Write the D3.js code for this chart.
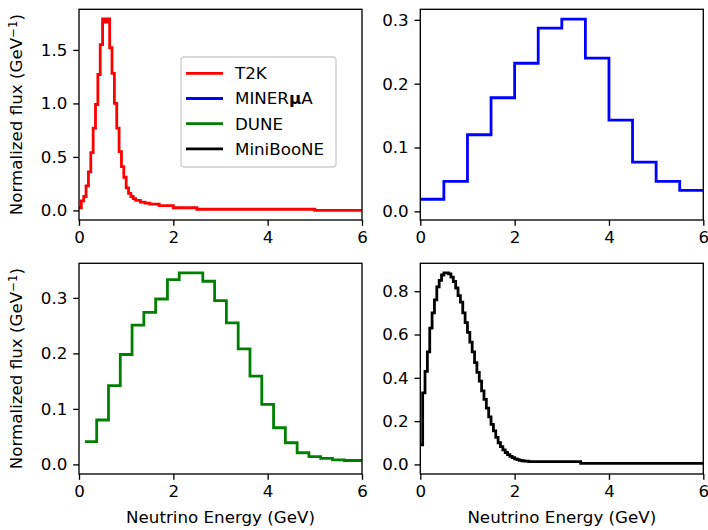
<!DOCTYPE html>
<html>
<head>
<meta charset="utf-8">
<script src="https://cdn.jsdelivr.net/npm/d3@7"></script>
<style>
body { margin: 0; background: #fff; }
text { font-family: "DejaVu Sans", sans-serif; fill: #000; }
</style>
</head>
<body>
<div class="graphic"></div>
<script>
// bin edges (GeV) and flux value per bin
var t2kEdges = [0, 0.05, 0.1, 0.15, 0.2, 0.25, 0.3, 0.35, 0.4, 0.45, 0.5, 0.55, 0.6, 0.65, 0.7, 0.75, 0.8, 0.85, 0.9, 0.95,
    1.0, 1.05, 1.1, 1.15, 1.2, 1.3, 1.4, 1.5, 1.7, 2.0, 2.5, 5.0, 7.0]
var t2kFlux = [0.025, 0.09, 0.13, 0.23, 0.36, 0.54, 0.77, 0.99, 1.27, 1.55, 1.79, 1.76, 1.79, 1.52, 1.28, 1.0, 0.77, 0.55, 0.41, 0.31,
    0.21, 0.16, 0.13, 0.11, 0.093, 0.078, 0.068, 0.058, 0.045, 0.025, 0.011, 0.001]

var minervaEdges = [0, 0.5, 1.0, 1.5, 2.0, 2.5, 3.0, 3.5, 4.0, 4.5, 5.0, 5.5, 6.0]
var minervaFlux = [0.019, 0.047, 0.120, 0.178, 0.232, 0.287, 0.301, 0.240, 0.143, 0.077, 0.047, 0.033]

var duneEdges = [0.125, 0.375, 0.625, 0.875, 1.125, 1.375, 1.625, 1.875, 2.125, 2.375, 2.625, 2.875, 3.125, 3.375,
    3.625, 3.875, 4.125, 4.375, 4.625, 4.875, 5.125, 5.375, 5.625, 5.875, 6.125]
var duneFlux = [0.041, 0.080, 0.142, 0.198, 0.251, 0.274, 0.298, 0.333, 0.345, 0.345, 0.330, 0.295, 0.255, 0.208,
    0.159, 0.108, 0.066, 0.039, 0.021, 0.014, 0.011, 0.008, 0.007, 0.007]

var booneEdges = [0, 0.05, 0.1, 0.15, 0.2, 0.25, 0.3, 0.35, 0.4, 0.45, 0.5, 0.55, 0.6, 0.65, 0.7, 0.75, 0.8, 0.85, 0.9, 0.95,
    1.0, 1.05, 1.1, 1.15, 1.2, 1.25, 1.3, 1.35, 1.4, 1.45, 1.5, 1.55, 1.6, 1.65, 1.7, 1.75, 1.8, 1.85, 1.9, 1.95,
    2.0, 2.05, 2.1, 2.15, 2.2, 2.3, 3.4, 8.0]
var booneFlux = [0.09, 0.33, 0.43, 0.52, 0.63, 0.70, 0.76, 0.82, 0.85, 0.875, 0.885, 0.885, 0.88, 0.865, 0.845, 0.815, 0.78, 0.75, 0.70, 0.655,
    0.61, 0.565, 0.52, 0.47, 0.425, 0.385, 0.34, 0.30, 0.26, 0.22, 0.185, 0.155, 0.125, 0.10, 0.082, 0.067, 0.055, 0.045, 0.037, 0.031,
    0.026, 0.022, 0.019, 0.017, 0.015, 0.013, 0.005]

var names = ['T2K', 'MINERμA', 'DUNE', 'MiniBooNE']
var colors = ['#ff0000', '#0000ff', '#008000', '#000000']
var xTicks = [0, 2, 4, 6]
var yTicks = [
    [0, 0.5, 1.0, 1.5],
    [0, 0.1, 0.2, 0.3],
    [0, 0.1, 0.2, 0.3],
    [0, 0.2, 0.4, 0.6, 0.8]
]
var yLimits = [[-0.0895, 1.8795], [-0.0135, 0.3165], [-0.0173, 0.3623], [-0.0443, 0.929]]

var width = 708
var height = 530
var fontSize = 16.7
var panelW = 283
var panelH = 210.7
var panelX = [79, 420.3]
var panelY = [9.3, 263.3]

var svg = d3.select('.graphic').append('svg')
    .attr('width', width)
    .attr('height', height)

var series = [
    { edges: t2kEdges, flux: t2kFlux },
    { edges: minervaEdges, flux: minervaFlux },
    { edges: duneEdges, flux: duneFlux },
    { edges: booneEdges, flux: booneFlux }
]

function translate(x, y) {
    return 'translate(' + x + ',' + y + ')'
}

// step points: each bin held flat to its right edge
function stepPoints(s) {
    var pts = s.flux.map(function(v, i) { return [s.edges[i], v] })
    pts.push([s.edges[s.edges.length - 1], s.flux[s.flux.length - 1]])
    return pts
}

series.forEach(function(s, i) {
    var px = panelX[i % 2]
    var py = panelY[Math.floor(i / 2)]

    var x = d3.scaleLinear().domain([0, 6]).range([0, panelW])
    var y = d3.scaleLinear().domain(yLimits[i]).range([panelH, 0])

    var g = svg.append('g').attr('transform', translate(px, py))

    g.append('clipPath').attr('id', 'clip' + i)
        .append('rect').attr('width', panelW).attr('height', panelH)

    var line = d3.line()
        .x(function(d) { return x(d[0]) })
        .y(function(d) { return y(d[1]) })
        .curve(d3.curveStepAfter)

    g.append('path')
        .datum(stepPoints(s))
        .attr('clip-path', 'url(#clip' + i + ')')
        .attr('d', line)
        .attr('fill', 'none')
        .attr('stroke', colors[i])
        .attr('stroke-width', 2.8)
        .attr('stroke-linejoin', 'miter')

    var xAxis = d3.axisBottom(x).tickValues(xTicks).tickFormat(d3.format('d'))
        .tickSize(5.8).tickPadding(5.8)
    var yAxis = d3.axisLeft(y).tickValues(yTicks[i]).tickFormat(d3.format('.1f'))
        .tickSize(5.8).tickPadding(5.8)

    g.append('g').attr('class', 'x-axis').attr('transform', translate(0, panelH)).call(xAxis)
    g.append('g').attr('class', 'y-axis').call(yAxis)

    g.selectAll('.domain').remove()
    g.selectAll('.tick line').attr('stroke', '#000').attr('stroke-width', 1.33)
    g.selectAll('.tick text').style('font-size', fontSize + 'px').attr('fill', '#000')

    g.append('rect')
        .attr('width', panelW).attr('height', panelH)
        .attr('fill', 'none').attr('stroke', '#000').attr('stroke-width', 1.33)

    if (i % 2 == 0) {
        var lab = g.append('text')
            .attr('transform', translate(-57, panelH / 2) + ' rotate(-90)')
            .attr('text-anchor', 'middle')
            .style('font-size', fontSize + 'px')
        lab.append('tspan').text('Normalized flux (GeV')
        lab.append('tspan').text('−1').style('font-size', (fontSize * 0.7) + 'px').attr('dy', '-0.45em')
        lab.append('tspan').text(')').attr('dy', '0.32em')
    }
    if (i >= 2) {
        g.append('text')
            .attr('x', panelW / 2).attr('y', panelH + 49)
            .attr('text-anchor', 'middle')
            .style('font-size', fontSize + 'px')
            .text('Neutrino Energy (GeV)')
    }
})

// legend inside the first panel
var legend = svg.append('g').attr('transform', translate(181, 57))
legend.append('rect')
    .attr('width', 155).attr('height', 110).attr('rx', 3)
    .attr('fill', '#fff').attr('fill-opacity', 0.8)
    .attr('stroke', '#cccccc').attr('stroke-width', 1.33)

var row = legend.selectAll('.row')
    .data(names)
    .enter().append('g')
    .attr('class', 'row')
    .attr('transform', function(d, i) { return translate(0, 16.3 + i * 25.2) })

row.append('line')
    .attr('x1', 5).attr('x2', 42)
    .attr('stroke', function(d, i) { return colors[i] })
    .attr('stroke-width', 2.8)

row.append('text')
    .attr('x', 54).attr('dy', '0.35em')
    .style('font-size', fontSize + 'px')
    .each(function(d) {
        var t = d3.select(this)
        if (d.indexOf('μ') >= 0) {
            var parts = d.split('μ')
            t.append('tspan').text(parts[0])
            t.append('tspan').text('μ').style('font-weight', 'bold')
            t.append('tspan').text(parts[1])
        } else {
            t.text(d)
        }
    })
</script>
</body>
</html>
